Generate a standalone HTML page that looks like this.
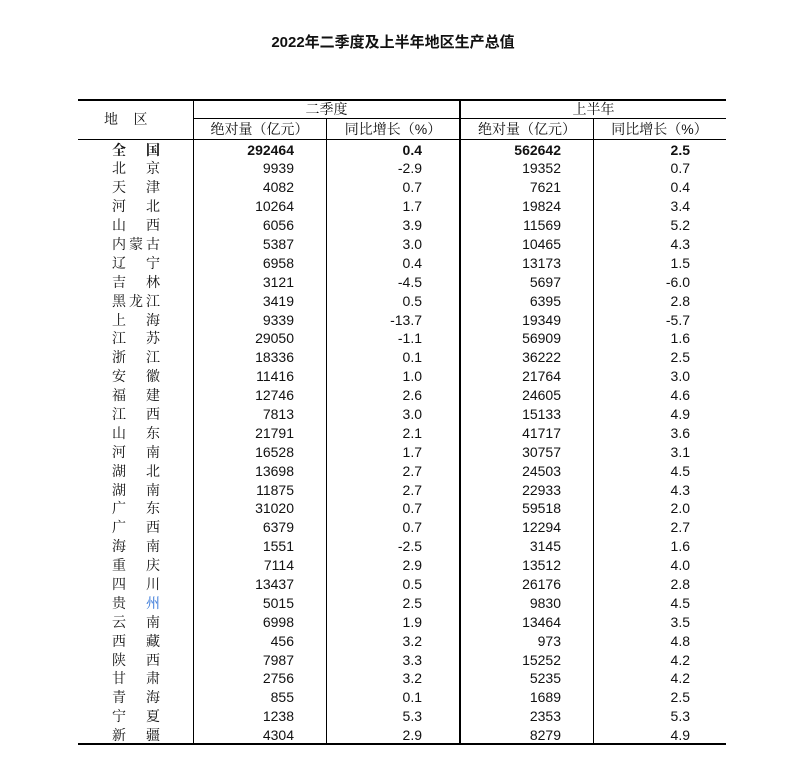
<!DOCTYPE html>
<html><head><meta charset="utf-8"><style>
body{margin:0;width:786px;height:775px;background:#fff;position:relative;font-family:"Liberation Sans","Noto Serif CJK SC","Noto Sans CJK SC",sans-serif;color:#111;overflow:hidden}
.t{position:absolute;top:31px;left:0;width:786px;text-align:center;font-weight:bold;font-size:15px;font-family:"Liberation Sans","Noto Sans CJK SC",sans-serif}
.h{position:absolute;background:#000}
.tx{position:absolute;font-size:14px;line-height:19px;white-space:nowrap}
#rows{position:absolute;left:0;top:140.5px;width:786px}
.r{position:relative;height:18.9px;font-size:14px;line-height:18.9px}
.r span{position:absolute;top:0;white-space:nowrap}
.r .a{left:112px;width:48px;text-align:justify;text-align-last:justify;font-family:"Noto Serif CJK SC","Noto Sans CJK SC",serif}
.r .b{right:492px}.r .c{right:364px}.r .d{right:225px}.r .e{right:96px}
.bd{font-weight:bold}
</style></head><body>
<div class="t">2022年二季度及上半年地区生产总值</div>
<div class="h" style="left:78px;top:99px;width:648px;height:2px"></div>
<div class="h" style="left:193px;top:118px;width:533px;height:1px"></div>
<div class="h" style="left:78px;top:139px;width:648px;height:1px"></div>
<div class="h" style="left:78px;top:743px;width:648px;height:2px"></div>
<div class="h" style="left:193px;top:100px;width:1px;height:644px"></div>
<div class="h" style="left:326px;top:119px;width:1px;height:625px"></div>
<div class="h" style="left:459px;top:100px;width:2px;height:644px"></div>
<div class="h" style="left:593px;top:119px;width:1px;height:625px"></div>
<div class="tx" style="left:104px;top:110px">地&nbsp;&nbsp;&nbsp;&nbsp;区</div>
<div class="tx" style="left:193px;width:267px;text-align:center;top:100px">二季度</div>
<div class="tx" style="left:461px;width:265px;text-align:center;top:100px">上半年</div>
<div class="tx" style="left:193px;width:133px;text-align:center;top:120px">绝对量（亿元）</div>
<div class="tx" style="left:326px;width:134px;text-align:center;top:120px">同比增长（%）</div>
<div class="tx" style="left:461px;width:132px;text-align:center;top:120px">绝对量（亿元）</div>
<div class="tx" style="left:593px;width:133px;text-align:center;top:120px">同比增长（%）</div>
<div id="rows">
<div class="r bd"><span class="a">全国</span><span class="b">292464</span><span class="c">0.4</span><span class="d">562642</span><span class="e">2.5</span></div>
<div class="r"><span class="a">北京</span><span class="b">9939</span><span class="c">-2.9</span><span class="d">19352</span><span class="e">0.7</span></div>
<div class="r"><span class="a">天津</span><span class="b">4082</span><span class="c">0.7</span><span class="d">7621</span><span class="e">0.4</span></div>
<div class="r"><span class="a">河北</span><span class="b">10264</span><span class="c">1.7</span><span class="d">19824</span><span class="e">3.4</span></div>
<div class="r"><span class="a">山西</span><span class="b">6056</span><span class="c">3.9</span><span class="d">11569</span><span class="e">5.2</span></div>
<div class="r"><span class="a">内蒙古</span><span class="b">5387</span><span class="c">3.0</span><span class="d">10465</span><span class="e">4.3</span></div>
<div class="r"><span class="a">辽宁</span><span class="b">6958</span><span class="c">0.4</span><span class="d">13173</span><span class="e">1.5</span></div>
<div class="r"><span class="a">吉林</span><span class="b">3121</span><span class="c">-4.5</span><span class="d">5697</span><span class="e">-6.0</span></div>
<div class="r"><span class="a">黑龙江</span><span class="b">3419</span><span class="c">0.5</span><span class="d">6395</span><span class="e">2.8</span></div>
<div class="r"><span class="a">上海</span><span class="b">9339</span><span class="c">-13.7</span><span class="d">19349</span><span class="e">-5.7</span></div>
<div class="r"><span class="a">江苏</span><span class="b">29050</span><span class="c">-1.1</span><span class="d">56909</span><span class="e">1.6</span></div>
<div class="r"><span class="a">浙江</span><span class="b">18336</span><span class="c">0.1</span><span class="d">36222</span><span class="e">2.5</span></div>
<div class="r"><span class="a">安徽</span><span class="b">11416</span><span class="c">1.0</span><span class="d">21764</span><span class="e">3.0</span></div>
<div class="r"><span class="a">福建</span><span class="b">12746</span><span class="c">2.6</span><span class="d">24605</span><span class="e">4.6</span></div>
<div class="r"><span class="a">江西</span><span class="b">7813</span><span class="c">3.0</span><span class="d">15133</span><span class="e">4.9</span></div>
<div class="r"><span class="a">山东</span><span class="b">21791</span><span class="c">2.1</span><span class="d">41717</span><span class="e">3.6</span></div>
<div class="r"><span class="a">河南</span><span class="b">16528</span><span class="c">1.7</span><span class="d">30757</span><span class="e">3.1</span></div>
<div class="r"><span class="a">湖北</span><span class="b">13698</span><span class="c">2.7</span><span class="d">24503</span><span class="e">4.5</span></div>
<div class="r"><span class="a">湖南</span><span class="b">11875</span><span class="c">2.7</span><span class="d">22933</span><span class="e">4.3</span></div>
<div class="r"><span class="a">广东</span><span class="b">31020</span><span class="c">0.7</span><span class="d">59518</span><span class="e">2.0</span></div>
<div class="r"><span class="a">广西</span><span class="b">6379</span><span class="c">0.7</span><span class="d">12294</span><span class="e">2.7</span></div>
<div class="r"><span class="a">海南</span><span class="b">1551</span><span class="c">-2.5</span><span class="d">3145</span><span class="e">1.6</span></div>
<div class="r"><span class="a">重庆</span><span class="b">7114</span><span class="c">2.9</span><span class="d">13512</span><span class="e">4.0</span></div>
<div class="r"><span class="a">四川</span><span class="b">13437</span><span class="c">0.5</span><span class="d">26176</span><span class="e">2.8</span></div>
<div class="r"><span class="a">贵<b style="font-weight:normal;color:#2a6fd6">州</b></span><span class="b">5015</span><span class="c">2.5</span><span class="d">9830</span><span class="e">4.5</span></div>
<div class="r"><span class="a">云南</span><span class="b">6998</span><span class="c">1.9</span><span class="d">13464</span><span class="e">3.5</span></div>
<div class="r"><span class="a">西藏</span><span class="b">456</span><span class="c">3.2</span><span class="d">973</span><span class="e">4.8</span></div>
<div class="r"><span class="a">陕西</span><span class="b">7987</span><span class="c">3.3</span><span class="d">15252</span><span class="e">4.2</span></div>
<div class="r"><span class="a">甘肃</span><span class="b">2756</span><span class="c">3.2</span><span class="d">5235</span><span class="e">4.2</span></div>
<div class="r"><span class="a">青海</span><span class="b">855</span><span class="c">0.1</span><span class="d">1689</span><span class="e">2.5</span></div>
<div class="r"><span class="a">宁夏</span><span class="b">1238</span><span class="c">5.3</span><span class="d">2353</span><span class="e">5.3</span></div>
<div class="r"><span class="a">新疆</span><span class="b">4304</span><span class="c">2.9</span><span class="d">8279</span><span class="e">4.9</span></div>
</div>
</body></html>
